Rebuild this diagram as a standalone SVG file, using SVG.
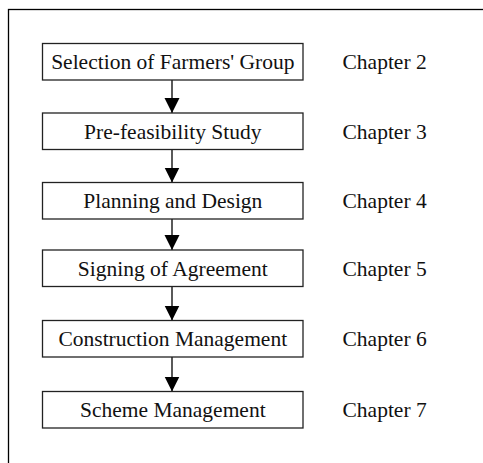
<svg xmlns="http://www.w3.org/2000/svg" width="483" height="463" viewBox="0 0 483 463">
<style>
.box{fill:#fff;stroke:#222;stroke-width:1.3}
.t{font-family:"Liberation Serif","Times New Roman",serif;font-size:21.5px;fill:#111}
.c{text-anchor:middle}
.edge{stroke:#000;stroke-width:1.3;fill:none}
</style>
<defs>
<marker id="ah" markerUnits="userSpaceOnUse" markerWidth="16" markerHeight="16" viewBox="0 0 16 16" refX="15" refY="8" orient="auto">
<path d="M0,0.5 L15,8 L0,15.5 Z" fill="#000"/>
</marker>
</defs>
<rect x="8.5" y="9.5" width="520" height="520" fill="#fff" stroke="#000" stroke-width="1.3"/>
<g id="connectors">
<line class="edge" x1="172" y1="80" x2="172" y2="113" marker-end="url(#ah)"/>
<line class="edge" x1="172" y1="149.5" x2="172" y2="182.5" marker-end="url(#ah)"/>
<line class="edge" x1="172" y1="219" x2="172" y2="250" marker-end="url(#ah)"/>
<line class="edge" x1="172" y1="286.5" x2="172" y2="320.5" marker-end="url(#ah)"/>
<line class="edge" x1="172" y1="357" x2="172" y2="391.5" marker-end="url(#ah)"/>
</g>
<g id="n1"><rect class="box" x="42.5" y="43.5" width="260.5" height="36.5"/><text class="t c" x="172.8" y="69">Selection of Farmers' Group</text></g>
<g id="n2"><rect class="box" x="42.5" y="113" width="260.5" height="36.5"/><text class="t c" x="172.8" y="138.5">Pre-feasibility Study</text></g>
<g id="n3"><rect class="box" x="42.5" y="182.5" width="260.5" height="36.5"/><text class="t c" x="172.8" y="208">Planning and Design</text></g>
<g id="n4"><rect class="box" x="42.5" y="250" width="260.5" height="36.5"/><text class="t c" x="172.8" y="275.5">Signing of Agreement</text></g>
<g id="n5"><rect class="box" x="42.5" y="320.5" width="260.5" height="36.5"/><text class="t c" x="172.8" y="346">Construction Management</text></g>
<g id="n6"><rect class="box" x="42.5" y="391.5" width="260.5" height="36.5"/><text class="t c" x="172.8" y="417">Scheme Management</text></g>
<g id="chapters">
<text class="t" x="342.5" y="69">Chapter 2</text>
<text class="t" x="342.5" y="138.5">Chapter 3</text>
<text class="t" x="342.5" y="208">Chapter 4</text>
<text class="t" x="342.5" y="275.5">Chapter 5</text>
<text class="t" x="342.5" y="346">Chapter 6</text>
<text class="t" x="342.5" y="417">Chapter 7</text>
</g>
</svg>
